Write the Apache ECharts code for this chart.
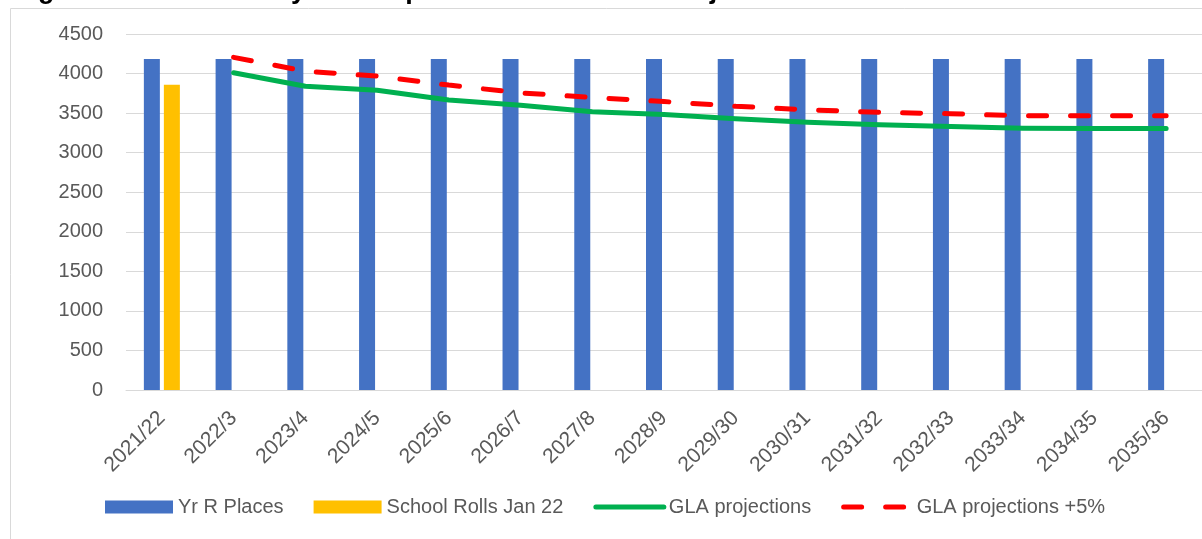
<!DOCTYPE html>
<html>
<head>
<meta charset="utf-8">
<script src="https://cdn.jsdelivr.net/npm/echarts@6/dist/echarts.min.js"></script>
<style>
  html, body { margin: 0; padding: 0; background: #fff; }
  #main { width: 1202px; height: 539px; }
</style>
</head>
<body>
<div id="main"></div>
<script>
// school years on the x axis
var years = ['2021/22', '2022/3', '2023/4', '2024/5', '2025/6', '2026/7', '2027/8', '2028/9',
	'2029/30', '2030/31', '2031/32', '2032/33', '2033/34', '2034/35', '2035/36'];

// Yr R places (same every year)
var yrRPlaces = [4185, 4185, 4185, 4185, 4185, 4185, 4185, 4185, 4185, 4185, 4185, 4185, 4185, 4185, 4185];
// school rolls, only the first year
var schoolRolls = [3860, null, null, null, null, null, null, null, null, null, null, null, null, null, null];
// GLA projections
var glaProj = [null, 4010, 3840, 3790, 3665, 3600, 3517, 3483, 3430, 3383, 3354, 3330, 3308, 3304, 3304];
// GLA projections +5%
var glaProj5 = [null, 4205, 4030, 3967, 3854, 3755, 3698, 3646, 3587, 3542, 3510, 3492, 3467, 3467, 3467];

var myChart = echarts.init(document.getElementById('main'));

var labelColor = '#595959';
var gridColor = '#D9D9D9';
var font = '"Liberation Sans", Arial, sans-serif';
var redDash = [ 18, 24 ];

var option = {
	animation : false,
	textStyle : { fontFamily : font },
	graphic : [ {
		// outer chart frame (runs off the picture to the right and bottom)
		type : 'rect',
		shape : { x : 10.5, y : 8.5, width : 1400, height : 700 },
		style : { fill : null, stroke : gridColor, lineWidth : 1 },
		silent : true
	}, {
		// title, mostly cut off by the top edge
		type : 'text',
		left : 14,
		top : -23,
		style : {
			text : 'Figure 3: Total Primary Year R places and the GLA Projections',
			font : 'bold 27px ' + font,
			fill : '#000'
		},
		silent : true
	} ],
	grid : {
		left : 126,
		right : -5,
		top : 34,
		bottom : 149
	},
	legend : {
		left : 100,
		top : 492,
		itemWidth : 68,
		itemHeight : 13,
		itemGap : 30,
		textStyle : { fontSize : 20, color : labelColor, fontFamily : font },
		data : [ {
			name : 'Yr R Places',
			icon : 'rect'
		}, {
			name : 'School Rolls Jan 22',
			icon : 'rect'
		}, {
			name : 'GLA projections',
			itemStyle : { opacity : 0 },
			lineStyle : { width : 5, cap : 'round' }
		}, {
			name : 'GLA projections +5%',
			itemStyle : { opacity : 0 },
			lineStyle : { width : 5, type : redDash, cap : 'round' }
		} ]
	},
	xAxis : {
		type : 'category',
		data : years,
		axisTick : { show : false },
		axisLine : { lineStyle : { color : gridColor, width : 1 } },
		axisLabel : {
			rotate : 45,
			interval : 0,
			margin : 25,
			fontSize : 21,
			color : labelColor,
			fontFamily : font
		}
	},
	yAxis : {
		type : 'value',
		min : 0,
		max : 4500,
		interval : 500,
		axisLine : { show : false },
		axisTick : { show : false },
		splitLine : { lineStyle : { color : gridColor, width : 1 } },
		axisLabel : {
			fontSize : 20,
			color : labelColor,
			margin : 23,
			fontFamily : font,
			formatter : function(v) {
				return String(v);
			}
		}
	},
	series : [ {
		name : 'Yr R Places',
		type : 'bar',
		data : yrRPlaces,
		barWidth : 16,
		barGap : '25%',
		itemStyle : { color : '#4472C4' }
	}, {
		name : 'School Rolls Jan 22',
		type : 'bar',
		data : schoolRolls,
		barWidth : 16,
		barGap : '25%',
		itemStyle : { color : '#FFC000' }
	}, {
		name : 'GLA projections',
		type : 'line',
		data : glaProj,
		symbol : 'none',
		lineStyle : { color : '#00B050', width : 5, cap : 'round', join : 'round' },
		itemStyle : { color : '#00B050' }
	}, {
		name : 'GLA projections +5%',
		type : 'line',
		data : glaProj5,
		symbol : 'none',
		lineStyle : { color : '#FF0000', width : 5, type : redDash, cap : 'round' },
		itemStyle : { color : '#FF0000' }
	} ]
};

myChart.setOption(option);
</script>
</body>
</html>
